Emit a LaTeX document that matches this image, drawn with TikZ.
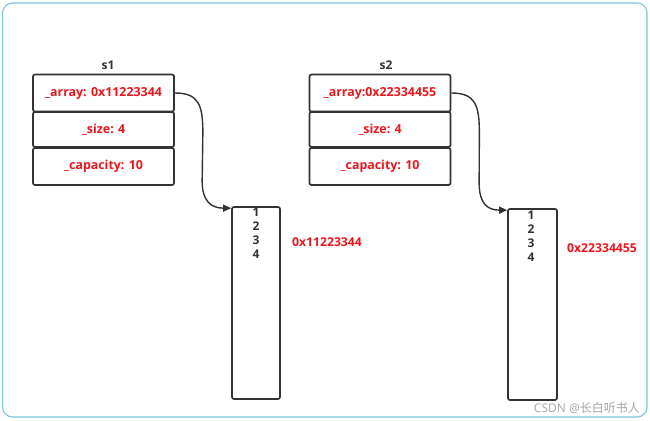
\documentclass[tikz,border=0pt]{standalone}
\usepackage{fontspec}
\setmainfont{Open Sans}
\newfontfamily\cjkfont{Noto Sans CJK SC}
\usetikzlibrary{arrows.meta,calc}
\definecolor{redtxt}{RGB}{236,22,30}
\definecolor{linec}{RGB}{51,51,51}
\definecolor{framec}{RGB}{125,198,222}
\definecolor{wmark}{RGB}{165,165,165}
\tikzset{
  field/.style={draw=linec, line width=1.7pt, rounded corners=2pt, minimum width=141pt, inner sep=0pt,
    font=\fontsize{12.4}{14}\selectfont\bfseries, text=redtxt},
  arrbox/.style={draw=linec, line width=1.7pt, rounded corners=2pt, inner sep=0pt},
  nums/.style={font=\fontsize{12}{14}\selectfont\bfseries, text=linec, align=center, inner sep=0pt},
  addr/.style={font=\fontsize{12.2}{14}\selectfont\bfseries, text=redtxt, inner sep=0pt},
  title/.style={font=\fontsize{12}{14}\selectfont\bfseries, text=linec, inner sep=0pt},
  ptr/.style={draw=linec, line width=1.4pt, -{Triangle[length=8pt,width=7pt]}}
}
\begin{document}
\begin{tikzpicture}[x=1pt,y=-1pt]
\useasboundingbox (0,0) rectangle (650,420);
\draw[framec, line width=1.1pt, rounded corners=10pt] (2.5,3) rectangle (647,417);
% s1
\node[title] (s1) at (108,65) {s1};
\node[field, minimum height=37pt] (a1) at (103.5,93) {\_array: 0x11223344};
\node[field, minimum height=35pt] (b1) at (103.5,129.5) {\_size: 4};
\node[field, minimum height=37pt] (c1) at (103.5,166.5) {\_capacity: 10};
% s2
\node[title] (s2) at (386,65) {s2};
\node[field, minimum height=37pt] (a2) at (380,93) {\_array:0x22334455};
\node[field, minimum height=35pt] (b2) at (380,129.5) {\_size: 4};
\node[field, minimum height=37pt] (c2) at (380,166.5) {\_capacity: 10};
% arrays
\node[arrbox, minimum width=48pt, minimum height=192pt] (m1) at (256,303) {};
\node[nums] (n1) at (256,233.5) {1\\2\\3\\4};
\node[addr] (l1) at (327,242) {0x11223344};
\node[arrbox, minimum width=49pt, minimum height=191pt] (m2) at (532.5,304.5) {};
\node[nums] (n2) at (531,236) {1\\2\\3\\4};
\node[addr] (l2) at (602,248) {0x22334455};
% pointers
\draw[ptr] (a1.east) .. controls ($(a1.east)+(24,0)$) and ($(a1.east)+(28,12)$) .. ($(a1.east)+(28,40)$)
  -- ($(m1.north west)+(-29,-25)$) .. controls ($(m1.north west)+(-29,-5)$) and ($(m1.north west)+(-20,2)$) .. ($(m1.north west)+(0,2)$);
\draw[ptr] (a2.east) .. controls ($(a2.east)+(24,0)$) and ($(a2.east)+(28,12)$) .. ($(a2.east)+(28,40)$)
  -- ($(m2.north west)+(-28,-25)$) .. controls ($(m2.north west)+(-28,-5)$) and ($(m2.north west)+(-20,2)$) .. ($(m2.north west)+(0,2)$);
% watermark
\node[text=wmark, font=\fontsize{12}{14}\selectfont, inner sep=0pt, anchor=east] (wm) at (640,408) {CSDN @{\cjkfont 长白听书人}};
\end{tikzpicture}
\end{document}
